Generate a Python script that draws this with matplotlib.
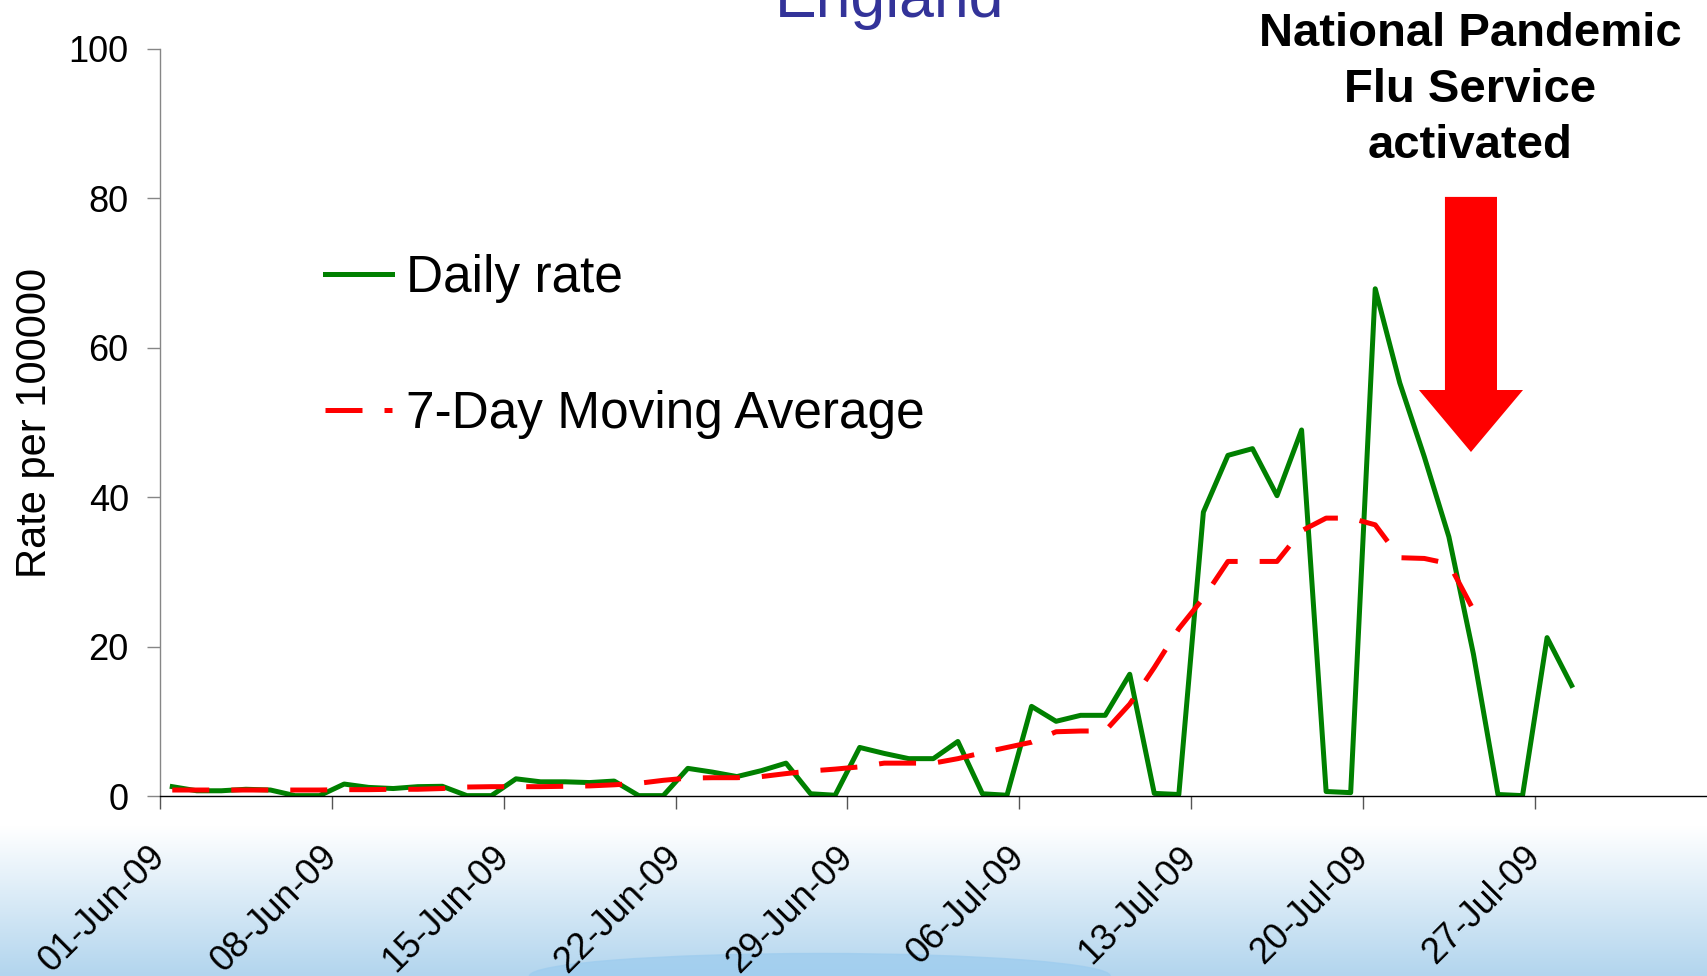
import numpy as np
import matplotlib.pyplot as plt
import matplotlib.patches as mpatches
from matplotlib.transforms import ScaledTranslation

plt.rcParams['font.family'] = ['Liberation Sans', 'DejaVu Sans']

# weekly tick labels, one per 7 days from 01-Jun-09
tick_labels = ['01-Jun-09', '08-Jun-09', '15-Jun-09', '22-Jun-09', '29-Jun-09',
               '06-Jul-09', '13-Jul-09', '20-Jul-09', '27-Jul-09']

# daily rate per 100000, 01-Jun-09 .. 28-Jul-09
daily_rate = [1.25, 0.7, 0.7, 0.9, 0.8, 0.05, 0.05,
              1.6, 1.15, 1.0, 1.25, 1.3, 0.05, 0.05,
              2.3, 1.9, 1.9, 1.8, 2.0, 0.05, 0.05,
              3.7, 3.2, 2.6, 3.4, 4.4, 0.3, 0.1,
              6.5, 5.7, 5.0, 5.0, 7.3, 0.3, 0.1,
              12.0, 10.0, 10.8, 10.8, 16.3, 0.35, 0.2,
              38.0, 45.6, 46.5, 40.2, 49.0, 0.6, 0.45,
              67.9, 55.3, 45.4, 34.7, 19.0, 0.2, 0.05,
              21.2, 14.8]

# 7-day moving average, 01-Jun-09 .. 23-Jul-09
moving_avg = [0.8, 0.8, 0.8, 0.8, 0.8, 0.8, 0.8,
              0.85, 0.85, 0.9, 0.9, 1.0, 1.2, 1.25,
              1.25, 1.25, 1.3, 1.35, 1.5, 1.7, 2.1,
              2.4, 2.45, 2.45, 2.6, 3.0, 3.35, 3.6,
              3.9, 4.4, 4.4, 4.4, 5.0, 5.8, 6.5,
              7.2, 8.6, 8.7, 8.7, 12.3, 17.2, 22.4,
              26.5, 31.4, 31.4, 31.4, 35.5, 37.2, 37.2,
              36.3, 31.9, 31.8, 31.1, 24.9]

fig = plt.figure(figsize=(17.08, 9.76), dpi=100)

# slide background: white fading into light blue at the bottom
bg = fig.add_axes([0, 0, 1, 150 / 976], zorder=-10)
bg.axis('off')
top_c = np.array([1.0, 1.0, 1.0])
bot_c = np.array([178, 213, 238]) / 255
t = np.linspace(0, 1, 200)[:, None]
grad = (bot_c * (1 - t) + top_c * t)[:, None, :]
bg.imshow(grad, aspect='auto', extent=[0, 1, 0, 1], origin='lower')
bg.add_patch(mpatches.Ellipse((0.48, 0.0), 0.34, 0.3, color='#9fcdee', alpha=0.8))
bg.set_xlim(0, 1)
bg.set_ylim(0, 1)

ax = fig.add_axes([160 / 1708, 180 / 976, 1546.65 / 1708, 747 / 976])
ax.patch.set_alpha(0)

x_daily = np.arange(len(daily_rate)) + 0.5
x_ma = np.arange(len(moving_avg)) + 0.5

ax.plot(x_daily, daily_rate, color='#008000', lw=3.6, label='Daily rate')
ax.plot(x_ma, moving_avg, color='#ff0000', lw=3.6, dashes=(7.4, 4.4),
        dash_capstyle='butt', label='7-Day Moving Average')

ax.set_xlim(0, 63)
ax.set_ylim(0, 100)
ax.set_xticks(np.arange(len(tick_labels)) * 7)
ax.set_xticklabels(tick_labels, rotation=45, ha='right', va='center',
                   rotation_mode='anchor')
ax.set_yticks(range(0, 101, 20))

# nudge the slanted date labels a little to the left
shift = ScaledTranslation(-0.08, 0, fig.dpi_scale_trans)
for lab in ax.get_xticklabels():
    lab.set_transform(lab.get_transform() + shift)

for s in ['top', 'right']:
    ax.spines[s].set_visible(False)
ax.spines['left'].set_color('#868686')
ax.spines['left'].set_linewidth(1.0)
ax.spines['bottom'].set_color('black')
ax.spines['bottom'].set_linewidth(1.0)

ax.tick_params(axis='y', direction='out', length=9.5, width=1, color='#868686',
               pad=13, labelsize=26)
ax.tick_params(axis='x', direction='out', length=9, width=1, color='#555555',
               pad=31, labelsize=26)

ax.set_ylabel('Rate per 100000', fontsize=30)
ax.yaxis.set_label_coords(-0.068, 0.5)

ax.legend(loc='upper left', bbox_to_anchor=(0.1067, 0.725), frameon=False,
          fontsize=37, handlelength=1.3, handletextpad=0.27, labelspacing=1.68,
          borderpad=0, borderaxespad=0)

# arrow marking the service launch
ax.add_patch(mpatches.FancyArrow(53.4, 80.2, 0, -34.15, width=2.12, head_width=4.24,
                                 head_length=8.3, length_includes_head=True,
                                 color='#ff0000', lw=0, clip_on=False))

fig.text(890 / 1708, 1 - 17 / 976, 'England', color='#333399', fontsize=45,
         ha='center', va='baseline')
fig.text(1470 / 1708, 0.988, 'National Pandemic\nFlu Service\nactivated',
         ha='center', va='top', fontsize=34, fontweight='bold', linespacing=1.36)

fig.savefig('out.png', dpi=100)
